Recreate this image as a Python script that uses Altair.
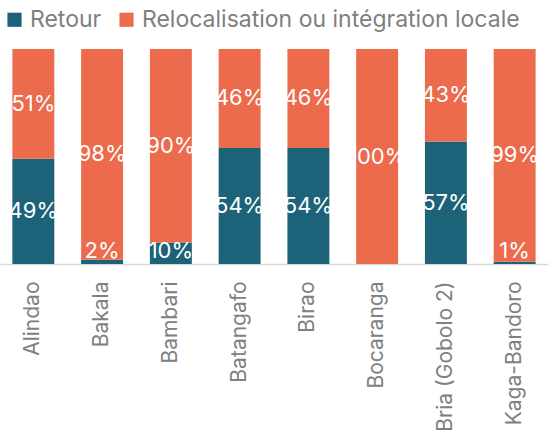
import altair as alt
import pandas as pd

categories = ["Alindao", "Bakala", "Bambari", "Batangafo", "Birao",
              "Bocaranga", "Bria (Gobolo 2)", "Kaga-Bandoro"]
retour = [49, 2, 10, 54, 54, 0, 57, 1]
relocalisation = [51, 98, 90, 46, 46, 100, 43, 99]
series = ["Retour", "Relocalisation ou intégration locale"]
colors = ["#1c6379", "#ec6b4d"]

rows = []
for c, r, l in zip(categories, retour, relocalisation):
    rows.append({"site": c, "serie": series[0], "valeur": r, "ordre": 0})
    rows.append({"site": c, "serie": series[1], "valeur": l, "ordre": 1})
df = pd.DataFrame(rows)

FONT = "Inter"

base = alt.Chart(df).transform_stack(
    stack="valeur", groupby=["site"], as_=["y0", "y1"],
    sort=[alt.SortField("ordre", order="ascending")]
)

x_enc = alt.X(
    "site:N", sort=categories,
    scale=alt.Scale(paddingInner=0.39, paddingOuter=0.18),
    axis=alt.Axis(title=None, labelAngle=-90, ticks=False, labelPadding=17,
                  labelFontSize=21, labelColor="#808080", labelFont=FONT,
                  labelLimit=0, domainColor="#d9d9d9", domainWidth=1.5)
)

bars = base.mark_bar().encode(
    x=x_enc,
    y=alt.Y("y0:Q", scale=alt.Scale(domain=[0, 100]), axis=None),
    y2="y1:Q",
    color=alt.Color(
        "serie:N", sort=series,
        scale=alt.Scale(domain=series, range=colors),
        legend=alt.Legend(
            title=None, orient="none", direction="horizontal",
            legendX=3, legendY=-41, symbolType="square", symbolSize=200,
            symbolStrokeWidth=0, labelFontSize=23, labelColor="#7f7f7f",
            labelFont=FONT, labelOffset=4, columnPadding=13, padding=0,
            labelLimit=0
        ),
    ),
)

labels = base.transform_filter("datum.valeur > 0").transform_calculate(
    mid="max((datum.y0 + datum.y1) / 2, 6)",
    label="datum.valeur + '%'"
).mark_text(color="white", fontSize=22, font=FONT, baseline="middle").encode(
    x=alt.X("site:N", sort=categories),
    y=alt.Y("mid:Q"),
    text="label:N",
)

chart = alt.layer(bars, labels).properties(
    width=548, height=215,
    autosize=alt.AutoSizeParams(type="none"),
    padding={"left": 0, "top": 49, "right": 4, "bottom": 172},
).configure_view(stroke=None)

chart.save("out.html", embed_options={"renderer": "svg", "actions": False})
